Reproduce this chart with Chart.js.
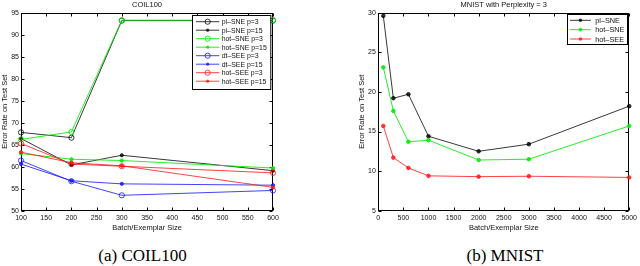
<!DOCTYPE html>
<html><head><meta charset="utf-8">
<script src="https://cdn.jsdelivr.net/npm/chart.js@4/dist/chart.umd.min.js"></script>
<style>
html,body{margin:0;padding:0;background:#fff;width:640px;height:266px;overflow:hidden;}
#wrapA{position:absolute;left:0;top:0;width:320px;height:240px;}
#wrapB{position:absolute;left:320px;top:0;width:320px;height:240px;}
.cap{position:absolute;top:246px;font-family:"Liberation Serif","Times New Roman",serif;font-size:17px;color:#000;transform:translateX(-50%);white-space:nowrap;line-height:20px;}
</style></head><body>
<div id="wrapA"><canvas id="cA" width="320" height="240"></canvas></div>
<div id="wrapB"><canvas id="cB" width="320" height="240"></canvas></div>
<div class="cap" id="capA" style="left:142.5px"></div>
<div class="cap" id="capB" style="left:505px"></div>
<script>
// ---- Data: (a) COIL100 ----
const coilTitle = "COIL100";
const coilSizes = [100, 200, 300, 600];
const coilPlSneP3  = [67.8, 66.6, 93.2, 93.2];
const coilPlSneP15 = [66.4, 60.4, 62.6, 59.1];
const coilHotSneP3  = [66.2, 67.9, 93.3, 93.3];
const coilHotSneP15 = [63.0, 61.7, 61.4, 59.7];
const coilDtSeeP3  = [61.4, 56.7, 53.5, 54.6];
const coilDtSeeP15 = [60.6, 56.8, 56.1, 55.8];
const coilHotSeeP3  = [65.3, 60.6, 60.1, 58.6];
const coilHotSeeP15 = [63.3, 60.9, 60.2, 55.3];
const coilLabels = ["pl–SNE p=3","pl–SNE p=15","hot–SNE p=3","hot–SNE p=15","dt–SEE p=3","dt–SEE p=15","hot–SEE p=3","hot–SEE p=15"];
const coilXTicks = {min:100, max:600, step:50};
const coilYTicks = {min:50, max:95, step:5};

// ---- Data: (b) MNIST ----
const mnistTitle = "MNIST with Perplexity = 3";
const mnistSizes = [100, 300, 600, 1000, 2000, 3000, 5000];
const mnistPlSne  = [29.6, 19.2, 19.7, 14.4, 12.5, 13.4, 18.2];
const mnistHotSne = [23.1, 17.6, 13.7, 13.9, 11.4, 11.5, 15.7];
const mnistHotSee = [15.7, 11.7, 10.4, 9.4, 9.3, 9.35, 9.2];
const mnistLabels = ["pl–SNE","hot–SNE","hot–SEE"];
const mnistXTicks = {min:0, max:5000, step:500};
const mnistYTicks = {min:5, max:30, step:5};

const xTitle = "Batch/Exemplar Size";
const yTitle = "Error Rate on Test Set";
document.getElementById('capA').textContent = "(a) COIL100";
document.getElementById('capB').textContent = "(b) MNIST";

const FONT = "'Liberation Sans', Arial, Helvetica, sans-serif";
const BLACK = 'rgba(0,0,0,0.78)', GREEN = 'rgba(0,235,0,0.85)', BLUE = 'rgba(20,20,255,0.8)', RED = 'rgba(255,20,20,0.8)';

function pts(xs, ys){ return xs.map((x,i)=>({x:x, y:ys[i]})); }

function ds(label, xs, ys, color, open, idx, n, r){
  return {
    label, data: pts(xs, ys), borderColor: color, borderWidth: 1,
    pointRadius: r, pointHoverRadius: r, pointBorderWidth: 1,
    pointBackgroundColor: open ? 'rgba(0,0,0,0)' : color,
    pointBorderColor: color, pointStyle: 'circle',
    _open: open, tension: 0, fill: false, clip: false, order: n - idx
  };
}

const frameTicks = {
  id: 'frameTicks',
  beforeDatasetsDraw(chart){
    const {ctx, chartArea:a, scales} = chart;
    const L = Math.round(a.left)+0.5, R = Math.round(a.right)-0.5, T = Math.round(a.top)+0.5, B = Math.round(a.bottom)-0.5;
    ctx.save();
    ctx.strokeStyle = '#000'; ctx.lineWidth = 1;
    ctx.beginPath();
    const tl = 3;
    scales.x.ticks.forEach(t => {
      const px = Math.round(scales.x.getPixelForValue(t.value)) + 0.5;
      ctx.moveTo(px, B); ctx.lineTo(px, B - tl);
      ctx.moveTo(px, T); ctx.lineTo(px, T + tl);
    });
    scales.y.ticks.forEach(t => {
      const py = Math.round(scales.y.getPixelForValue(t.value)) + 0.5;
      ctx.moveTo(L, py); ctx.lineTo(L + tl, py);
      ctx.moveTo(R, py); ctx.lineTo(R - tl, py);
    });
    ctx.stroke();
    ctx.strokeRect(L, T, R - L, B - T);
    ctx.restore();
  }
};

const boxLegend = {
  id: 'boxLegend',
  afterDraw(chart, args, opts){
    const {ctx, chartArea:a} = chart;
    const bx = a.right - opts.dx, by = a.top + opts.dy;
    ctx.save();
    ctx.fillStyle = '#fff'; ctx.strokeStyle = '#000'; ctx.lineWidth = 1;
    const x0 = Math.round(bx)+0.5, y0 = Math.round(by)+0.5;
    ctx.fillRect(x0, y0, opts.w, opts.h);
    ctx.strokeRect(x0, y0, opts.w, opts.h);
    ctx.font = opts.fontSize + "px " + FONT;
    ctx.textBaseline = 'middle'; ctx.textAlign = 'left';
    chart.data.datasets.forEach((d, i) => {
      const y = by + opts.first + i * opts.rowH;
      ctx.strokeStyle = d.borderColor; ctx.lineWidth = 1;
      ctx.beginPath(); ctx.moveTo(bx + opts.l0, y); ctx.lineTo(bx + opts.l1, y); ctx.stroke();
      ctx.beginPath(); ctx.arc(bx + (opts.l0 + opts.l1)/2, y, d.pointRadius, 0, Math.PI*2);
      if (d._open) { ctx.stroke(); } else { ctx.fillStyle = d.borderColor; ctx.fill(); }
      ctx.fillStyle = '#111';
      ctx.fillText(d.label, bx + opts.tx, y + 0.5);
    });
    ctx.restore();
  }
};

function makeOptions(title, xt, yt, lay, legendOpts){
  return {
    responsive: false, animation: false, events: [],
    layout: { padding: { left: lay.padL, right: lay.padR, top: 0, bottom: 0 } },
    plugins: {
      legend: { display: false }, tooltip: { enabled: false },
      title: { display: true, text: title, fullSize: false, color: '#111',
               font: { family: FONT, size: 7.5, weight: 'normal' }, padding: { top: 0.5, bottom: 3.2 } },
      boxLegend: legendOpts
    },
    scales: {
      x: { type: 'linear', min: xt.min, max: xt.max,
           ticks: { stepSize: xt.step, autoSkip: false, maxRotation: 0, padding: 3, color: '#111', font: { family: FONT, size: 7 },
                    callback: v => String(v) },
           grid: { display: false, drawTicks: false }, border: { display: false },
           title: { display: true, text: xTitle, color: '#111', font: { family: FONT, size: 7.5 }, padding: { top: 0, bottom: 7.5 } },
           afterFit(s){ s.height = 29.3; } },
      y: { type: 'linear', min: yt.min, max: yt.max,
           ticks: { stepSize: yt.step, autoSkip: false, padding: lay.yPad, color: '#111', font: { family: FONT, size: 7 },
                    callback: v => String(v) },
           grid: { display: false, drawTicks: false }, border: { display: false },
           title: { display: true, text: yTitle, color: '#111', font: { family: FONT, size: 7.5 }, padding: { top: 0, bottom: 0 } },
           afterFit(s){ s.width = lay.yW; } }
    }
  };
}

const coilSeries = [
  [coilPlSneP3, BLACK, true], [coilPlSneP15, BLACK, false],
  [coilHotSneP3, GREEN, true], [coilHotSneP15, GREEN, false],
  [coilDtSeeP3, BLUE, true], [coilDtSeeP15, BLUE, false],
  [coilHotSeeP3, RED, true], [coilHotSeeP15, RED, false]
];
new Chart(document.getElementById('cA'), {
  type: 'line',
  data: { datasets: coilSeries.map((s, i) => ds(coilLabels[i], coilSizes, s[0], s[1], s[2], i, coilSeries.length, s[2] ? 2.6 : 1.6)) },
  options: makeOptions(coilTitle, coilXTicks, coilYTicks, { padL: 0, padR: 47, yW: 21, yPad: 2 },
    { dx: 81.3, dy: 2.3, w: 78.3, h: 74, first: 6.7, rowH: 8.5, l0: 4.3, l1: 27.6, tx: 30, fontSize: 6.9 }),
  plugins: [frameTicks, boxLegend]
});

const mnistSeries = [[mnistPlSne, BLACK], [mnistHotSne, GREEN], [mnistHotSee, RED]];
new Chart(document.getElementById('cB'), {
  type: 'line',
  data: { datasets: mnistSeries.map((s, i) => ds(mnistLabels[i], mnistSizes, s[0], s[1], false, i, mnistSeries.length, 1.8)) },
  options: makeOptions(mnistTitle, mnistXTicks, mnistYTicks, { padL: 37.5, padR: 9, yW: 20.8, yPad: 2.5 },
    { dx: 62, dy: 1.3, w: 60, h: 30, first: 6.3, rowH: 9.35, l0: 2.7, l1: 23.7, tx: 28, fontSize: 7.3 }),
  plugins: [frameTicks, boxLegend]
});
</script>
</body></html>
